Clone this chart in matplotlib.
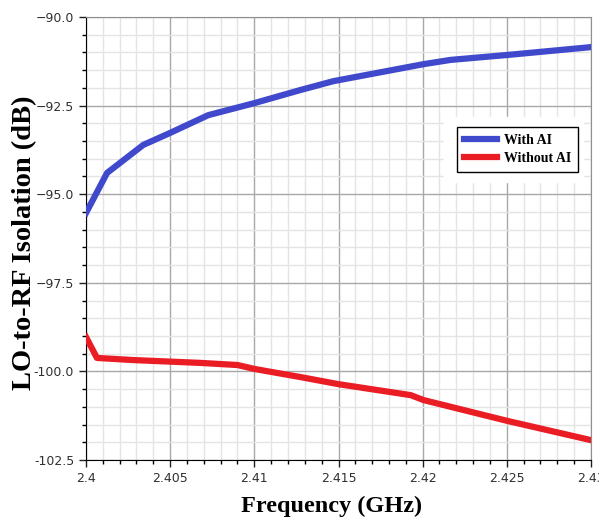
import numpy as np
import matplotlib.pyplot as plt
from matplotlib.patches import Rectangle

freq_ai = [2.4, 2.40125, 2.4034, 2.405, 2.40726, 2.41, 2.41274, 2.4147,
           2.42006, 2.42167, 2.42506, 2.43]
iso_ai = [-95.53, -94.40, -93.61, -93.27, -92.77, -92.43, -92.06, -91.81,
          -91.33, -91.21, -91.07, -90.85]

freq_noai = [2.4, 2.40065, 2.4028, 2.40679, 2.409, 2.41, 2.41274, 2.415,
             2.41929, 2.42006, 2.42506, 2.43]
iso_noai = [-99.03, -99.62, -99.68, -99.76, -99.82, -99.93, -100.16, -100.36,
            -100.67, -100.81, -101.40, -101.94]

xticks = [2.4, 2.405, 2.41, 2.415, 2.42, 2.425, 2.43]
xtick_labels = ['2.4', '2.405', '2.41', '2.415', '2.42', '2.425', '2.43']
yticks = [-102.5, -100.0, -97.5, -95.0, -92.5, -90.0]
ytick_labels = ['-102.5', '-100.0', '\u221297.5', '\u221295.0', '\u221292.5', '\u221290.0']

fig = plt.figure(figsize=(5.99, 5.2), dpi=100)
ax = fig.add_axes([86/599, 60/520, 505/599, 443/520])

ax.plot(freq_ai, iso_ai, color='#4049cc', lw=4.5, label='With AI', zorder=3)
ax.plot(freq_noai, iso_noai, color='#ea1c24', lw=4.5, label='Without AI', zorder=3)

ax.set_xlim(2.4, 2.43)
ax.set_ylim(-102.5, -90)
ax.set_xticks(xticks)
ax.set_xticklabels(xtick_labels)
ax.set_xticks(np.arange(2.4, 2.4305, 0.001), minor=True)
ax.set_yticks(yticks)
ax.set_yticklabels(ytick_labels)
ax.set_yticks(np.arange(-102.5, -89.9, 0.5), minor=True)

ax.grid(which='major', color='#a8a8a8', lw=1.0, zorder=0)
ax.grid(which='minor', color='#e4e4e4', lw=1.0, zorder=0)
ax.set_axisbelow(True)
ax.tick_params(which='major', length=5, width=1, labelsize=9, colors='#202020')
ax.tick_params(which='minor', length=3, width=1)
ax.tick_params(labelcolor='#303030')
for s in ['top', 'right']:
    ax.spines[s].set_color('#909090')

ax.set_xlabel('Frequency (GHz)', fontsize=17.5, fontweight='bold',
              family='Liberation Serif')
ax.set_ylabel('LO-to-RF Isolation (dB)', fontsize=20.5, fontweight='bold',
              family='Liberation Serif')
ax.xaxis.set_label_coords(0.487, -0.08)
ax.yaxis.set_label_coords(-0.097, 0.49)

# white patch behind legend
ax.add_patch(Rectangle(((444-86)/505, (460-182)/443), (583-444)/505, 65/443,
                       transform=ax.transAxes, color='white', zorder=2))
leg = ax.legend(loc='upper left', bbox_to_anchor=((457-86)/505, (460-127)/443),
                fancybox=False, edgecolor='black', framealpha=1,
                prop={'family': 'Liberation Serif', 'weight': 'bold', 'size': 10},
                handlelength=2.4, handletextpad=0.5, borderaxespad=0,
                labelspacing=0.35, borderpad=0.5)
leg.get_frame().set_linewidth(1.0)
leg.set_zorder(4)

fig.savefig('out.png', dpi=100)
